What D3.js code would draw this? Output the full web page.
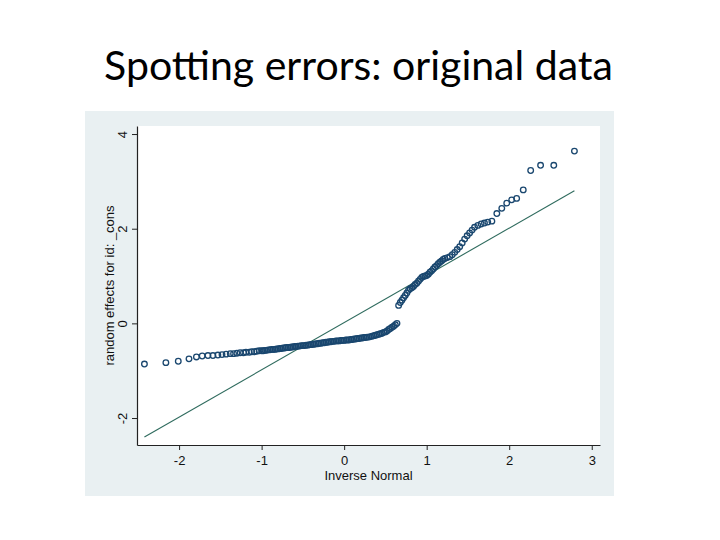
<!DOCTYPE html>
<html>
<head>
<meta charset="utf-8">
<script src="https://cdn.jsdelivr.net/npm/d3@7"></script>
<style>
  html, body { margin: 0; padding: 0; background: #ffffff; }
  svg { display: block; }
</style>
</head>
<body>
<script>
// ---- Data ----
const titleText = "Spotting errors: original data";
const xLabel = "Inverse Normal";
const yLabel = "random effects for id: _cons";
const xTicks = [-2, -1, 0, 1, 2, 3];
const yTicks = [-2, 0, 2, 4];

// theoretical normal quantiles (x) and estimated random effects (y)
const qx = [
  -2.42, -2.16, -2.01, -1.88, -1.79, -1.72, -1.65, -1.59, -1.53, -1.48,
  -1.43, -1.38, -1.34, -1.30, -1.26, -1.22, -1.19, -1.15, -1.12, -1.09,
  -1.06, -1.03,
  -1.00, -0.98, -0.96, -0.94, -0.92, -0.90, -0.88, -0.86, -0.84, -0.82,
  -0.80, -0.78, -0.76, -0.74, -0.72, -0.70, -0.68, -0.66, -0.64, -0.62,
  -0.60, -0.58, -0.56, -0.54, -0.52, -0.50, -0.48, -0.46, -0.44, -0.42,
  -0.40, -0.38, -0.36, -0.34, -0.32, -0.30, -0.28, -0.26, -0.24, -0.22,
  -0.20, -0.18, -0.16, -0.14, -0.12, -0.10, -0.08, -0.06, -0.04, -0.02,
  0.00, 0.02, 0.04, 0.06, 0.08, 0.10, 0.12, 0.14, 0.16, 0.18,
  0.20, 0.22, 0.24, 0.26, 0.28, 0.30, 0.32, 0.34, 0.36, 0.38,
  0.40, 0.42, 0.44, 0.46, 0.48, 0.50, 0.52, 0.54, 0.56, 0.58,
  0.60, 0.62, 0.64,
  0.66, 0.68, 0.70, 0.72, 0.74, 0.76, 0.78, 0.80, 0.82, 0.84,
  0.86, 0.88, 0.90, 0.92, 0.94, 0.96, 0.98, 1.00, 1.02, 1.04,
  1.06, 1.08, 1.10, 1.12, 1.14, 1.16, 1.18, 1.20, 1.22, 1.25,
  1.28, 1.31, 1.34, 1.37, 1.40, 1.43, 1.46, 1.49, 1.52, 1.55,
  1.58, 1.62, 1.66, 1.70, 1.74, 1.79, 1.85, 1.91, 1.97, 2.03,
  2.09, 2.17, 2.26, 2.38, 2.54, 2.79
];
const qy = [
  -0.86, -0.83, -0.80, -0.75, -0.71, -0.69, -0.68, -0.68, -0.67, -0.66,
  -0.65, -0.64, -0.64, -0.63, -0.62, -0.62, -0.61, -0.61, -0.60, -0.60,
  -0.59, -0.58,
  -0.58, -0.58, -0.57, -0.57, -0.56, -0.56, -0.55, -0.55, -0.55, -0.54,
  -0.54, -0.53, -0.53, -0.52, -0.52, -0.51, -0.51, -0.51, -0.50, -0.50,
  -0.49, -0.49, -0.48, -0.48, -0.47, -0.47, -0.47, -0.46, -0.46, -0.45,
  -0.45, -0.44, -0.44, -0.43, -0.43, -0.42, -0.42, -0.41, -0.41, -0.40,
  -0.40, -0.39, -0.39, -0.38, -0.38, -0.37, -0.37, -0.37, -0.36, -0.36,
  -0.36, -0.35, -0.35, -0.35, -0.34, -0.34, -0.33, -0.33, -0.32, -0.32,
  -0.31, -0.31, -0.30, -0.30, -0.29, -0.29, -0.28, -0.27, -0.26, -0.25,
  -0.24, -0.23, -0.22, -0.21, -0.19, -0.18, -0.16, -0.13, -0.11, -0.08,
  -0.06, -0.03, 0.00,
  0.38, 0.44, 0.49, 0.54, 0.59, 0.64, 0.70, 0.73, 0.75, 0.78,
  0.82, 0.85, 0.89, 0.93, 0.97, 0.99, 1.00, 1.01, 1.04, 1.08,
  1.11, 1.15, 1.19, 1.22, 1.26, 1.29, 1.32, 1.35, 1.37, 1.39,
  1.41, 1.45, 1.50, 1.56, 1.62, 1.70, 1.78, 1.85, 1.91, 1.97,
  2.03, 2.07, 2.10, 2.12, 2.14, 2.16, 2.32, 2.43, 2.54, 2.61,
  2.64, 2.82, 3.23, 3.34, 3.34, 3.64
];
// reference line (normal with sample mean / sd)
const refLineX = [-2.42, 2.79];
const refLineY = [-2.40, 2.80];

// ---- Layout ----
const W = 720, H = 540;
const plot = { left: 137, right: 600, top: 126, bottom: 445 };
const markerColor = "#1a476f";
const lineColor = "#2f6b5e";
const fontAxis = "'Liberation Sans', Arial, sans-serif";

const svg = d3.select("body").append("svg")
  .attr("width", W).attr("height", H);

// title
const title = svg.append("text")
  .attr("x", 358.5).attr("y", 80)
  .attr("text-anchor", "middle")
  .attr("font-family", "Lato, 'Open Sans', sans-serif")
  .attr("font-size", 44)
  .attr("fill", "#000")
  .text(titleText);
const tw = title.node().getComputedTextLength();
title.attr("font-size", 44 * 509 / tw);

// graph panel background
svg.append("rect")
  .attr("x", 85).attr("y", 111).attr("width", 529).attr("height", 385)
  .attr("fill", "#e9f0f2");
svg.append("rect")
  .attr("x", plot.left).attr("y", plot.top)
  .attr("width", plot.right - plot.left).attr("height", plot.bottom - plot.top)
  .attr("fill", "#ffffff");

// scales
const x = d3.scaleLinear().domain([-2.51, 3.10]).range([plot.left, plot.right]);
const y = d3.scaleLinear().domain([-2.57, 4.17]).range([plot.bottom, plot.top]);

// x axis
const gx = svg.append("g")
  .attr("transform", `translate(0,${plot.bottom})`)
  .call(d3.axisBottom(x).tickValues(xTicks).tickFormat(d3.format("d"))
        .tickSize(5).tickSizeOuter(0).tickPadding(6));
gx.select(".domain").attr("stroke", "#222").attr("stroke-width", 1.2);
gx.selectAll(".tick line").attr("stroke", "#222");
gx.selectAll(".tick text")
  .attr("font-family", fontAxis).attr("font-size", 13).attr("fill", "#111")
  .text(d => d < 0 ? "-" + Math.abs(d) : d);

// y axis
const gy = svg.append("g")
  .attr("transform", `translate(${plot.left},0)`)
  .call(d3.axisLeft(y).tickValues(yTicks).tickFormat(d3.format("d"))
        .tickSize(5).tickSizeOuter(0).tickPadding(7));
gy.select(".domain").attr("stroke", "#222").attr("stroke-width", 1.2);
gy.selectAll(".tick line").attr("stroke", "#222");
gy.selectAll(".tick text")
  .attr("font-family", fontAxis).attr("font-size", 13).attr("fill", "#111")
  .attr("x", null).attr("dy", null)
  .attr("text-anchor", "middle")
  .attr("transform", "translate(-10,0) rotate(-90)")
  .text(d => d < 0 ? "-" + Math.abs(d) : d);

// axis titles
svg.append("text")
  .attr("x", (plot.left + plot.right) / 2).attr("y", 480)
  .attr("text-anchor", "middle")
  .attr("font-family", fontAxis).attr("font-size", 13).attr("fill", "#111")
  .text(xLabel);
svg.append("text")
  .attr("transform", `translate(114,${(plot.top + plot.bottom) / 2}) rotate(-90)`)
  .attr("text-anchor", "middle")
  .attr("font-family", fontAxis).attr("font-size", 13).attr("fill", "#111")
  .text(yLabel);

// reference line
svg.append("line")
  .attr("x1", x(refLineX[0])).attr("y1", y(refLineY[0]))
  .attr("x2", x(refLineX[1])).attr("y2", y(refLineY[1]))
  .attr("stroke", lineColor).attr("stroke-width", 1.1);

// markers (hollow circles)
svg.append("g").selectAll("circle")
  .data(qx.map((v, i) => [v, qy[i]]))
  .join("circle")
  .attr("cx", d => x(d[0])).attr("cy", d => y(d[1]))
  .attr("r", 2.8)
  .attr("fill", "none")
  .attr("stroke", markerColor)
  .attr("stroke-width", 1.3);
</script>
</body>
</html>
